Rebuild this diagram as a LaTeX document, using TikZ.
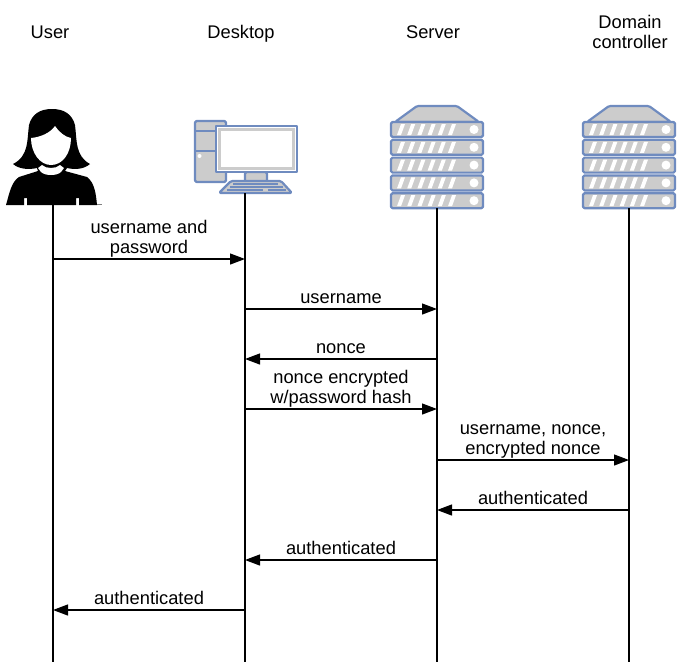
\documentclass[tikz,border=0pt]{standalone}
\usepackage{fontspec}
\setmainfont{Liberation Sans}
\usetikzlibrary{arrows.meta}
\definecolor{iconblue}{HTML}{6F8BBF}
\definecolor{icongray}{HTML}{CCCCCC}
\tikzset{
  head/.style={font=\fontsize{18.3}{20}\selectfont, align=center},
  msg/.style={font=\fontsize{18.3}{20}\selectfont, align=center, inner sep=5pt, above},
  msgtwo/.style={msg, inner sep=1pt},
  life/.style={line width=1.2pt, black},
  call/.style={line width=1.2pt, -{Triangle[length=15pt,width=11pt]}},
  part/.style={draw=iconblue, line width=2.2pt, fill=icongray, rounded corners=1.5pt, line join=round},
  server/.pic={
    \draw[part] (-42,-26) -- (-20,-42) -- (20,-42) -- (42,-26) -- cycle;
    \foreach \y in {0,1,2,3,4} {
      \begin{scope}[yshift=-\y*17.8pt]
        \draw[part] (-46,-26) rectangle (46,-11);
        \foreach \x in {0,...,5}
          \fill[white] (-40+\x*10.2,-13) -- (-36+\x*10.2,-24) -- (-32+\x*10.2,-24) -- (-36+\x*10.2,-13) -- cycle;
        \fill[white] (37,-18.5) circle (4.5pt);
      \end{scope}
    }
  }
}
\begin{document}
\begin{tikzpicture}[x=1pt,y=-1pt]
  \useasboundingbox (0,0) rectangle (685,667);
  % headings
  \node[head] (userhead) at (50,32) {User};
  \node[head] (desktophead) at (241,34) {Desktop};
  \node[head] (serverhead) at (433,32) {Server};
  \node[head] (domainhead) at (630,32) {Domain\\controller};
  % icons
  \pic at (437,148) {server};
  \pic at (629,148) {server};
  % user
  \fill (52,109) .. controls (40,109) and (32,114) .. (29,125)
     .. controls (27,140) and (29,156) .. (13,164)
     .. controls (19,169) and (28,170) .. (37,168)
     -- (38,171) -- (19,177) .. controls (11,182) and (9,195) .. (6,205)
     -- (24,205) -- (24,198) -- (27,198) -- (27,205) -- (76,205) -- (76,198) -- (79,198) -- (79,205) -- (97,205)
     .. controls (96,195) and (95,183) .. (87,177)
     -- (65,171) -- (67,168) .. controls (76,170) and (84,169) .. (90,164)
     .. controls (75,156) and (77,140) .. (75,125)
     .. controls (72,114) and (64,109) .. (52,109) -- cycle;
  \fill[white] (31,138) .. controls (41,137) and (50,133) .. (55,126)
     .. controls (59,132) and (65,137) .. (71,138)
     .. controls (71,153) and (63,165) .. (51,165)
     .. controls (40,165) and (31,153) .. (31,138) -- cycle;
  \fill[white] (42,165) .. controls (46,169) and (56,169) .. (60,165)
     -- (64,168) -- (61,172) .. controls (57,176) and (45,176) .. (41,172) -- (38,168) -- cycle;
  \fill[gray] (97,204) rectangle (102,205);
  % desktop
  \draw[part] (195,121) rectangle (226,182);
  \draw[iconblue, line width=1.6pt] (195,131) -- (226,131) (195,151) -- (226,151);
  \fill[white] (199.5,156) circle (2pt);
  \draw[part] (245,172) rectangle (267,182);
  \draw[part, fill=white, rounded corners=0pt] (216,126) rectangle (297,172);
  \draw[icongray, line width=2.5pt] (219.5,129.5) rectangle (293.5,168.5);
  \draw[part] (231,181) -- (281,181) -- (292,193) -- (219,193) -- cycle;
  \draw[iconblue, line width=1.2pt] (233,184) -- (278,184) (230,187) -- (283,187) (227,190) -- (263,190) (268,190) -- (286,190);
  % lifelines
  \foreach \name/\xpos/\ystart in {U/53/205,D/245/193,S/437/208,C/629/208} {
    \coordinate (\name top) at (\xpos,\ystart);
    \coordinate (\name end) at (\xpos,662);
    \foreach \row/\ypos in {1/259,2/309,3/359,4/409,5/460,6/510,7/560,8/610} {
      \coordinate (\name\row) at (\xpos,\ypos);
      \draw[line width=.6pt] (\name\row) -- ++(-1.5,0);
    }
    \draw[life] (\name top) -- (\name end);
  }
  % messages
  \path[call]
    (U1) edge node[msgtwo] {username and\\password} (D1)
    (D2) edge node[msg] {username} (S2)
    (S3) edge node[msg] {nonce} (D3)
    (D4) edge node[msgtwo] {nonce encrypted\\w/password hash} (S4)
    (S5) edge node[msgtwo] {username, nonce,\\encrypted nonce} (C5)
    (C6) edge node[msg] {authenticated} (S6)
    (S7) edge node[msg] {authenticated} (D7)
    (D8) edge node[msg] {authenticated} (U8);
\end{tikzpicture}
\end{document}
